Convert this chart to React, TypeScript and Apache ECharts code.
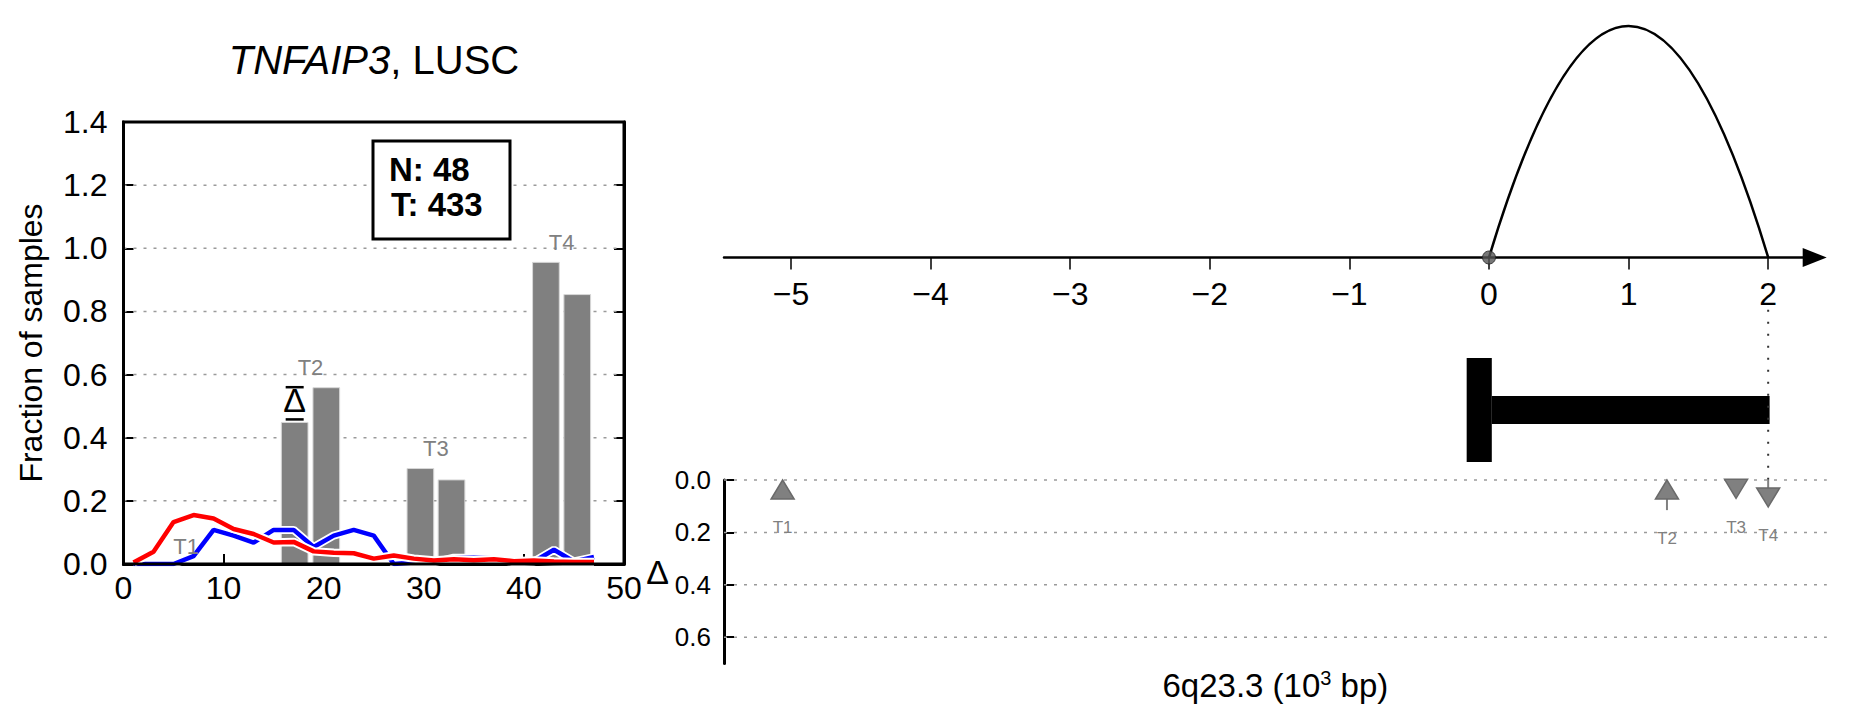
import React, { useEffect, useRef } from 'react';
import * as echarts from 'echarts';

const FONT = '"Liberation Sans", Arial, Helvetica, sans-serif';

// ---------- Left panel: TNFAIP3, LUSC ----------
const lineX = [1, 3, 5, 7, 9, 11, 13, 15, 17, 19, 21, 23, 25, 27, 29, 31, 33, 35, 37, 39, 41, 43, 45, 47];
const redValues = [0.005, 0.039, 0.133, 0.155, 0.144, 0.111, 0.095, 0.068, 0.07, 0.04, 0.036, 0.034, 0.017, 0.027, 0.017, 0.011, 0.015, 0.012, 0.015, 0.009, 0.011, 0.008, 0.006, 0.006];
const blueValues = [0, 0, 0, 0.025, 0.108, 0.09, 0.068, 0.108, 0.108, 0.054, 0.09, 0.108, 0.09, 0.0, 0.005, 0.005, 0.02, 0.02, 0.018, 0.005, 0.008, 0.045, 0.008, 0.022];
const barX = [17.1, 20.26, 29.66, 32.77, 42.2, 45.33];
const barValues = [0.45, 0.56, 0.304, 0.268, 0.957, 0.855];
const peakNames = ['T1', 'T2', 'T3', 'T4'];
const peakLabelX = [6.25, 18.68, 31.2, 43.77];
const peakLabelY = [0.055, 0.622, 0.367, 1.017];
const leftGridTicks = [0.2, 0.4, 0.6, 0.8, 1.0, 1.2];
const deltaBar = [17.1, 0.458, 0.56]; // x, low, high
const countN = 48;
const countT = 433;

// ---------- Right panel ----------
const numberLineTicks = [-5, -4, -3, -2, -1, 0, 1, 2];
const arcSpan = [0, 2, 1]; // start, end, relative height
const originPoint = [0, 0];
const geneBlocks = [
  [-0.16, 0.02, 0, 1],
  [0.02, 2.01, 0.365, 0.635],
];
const geneEndGuide = [2, -0.65, 0]; // x, delta from, delta to
const arrowNames = ['T1', 'T2', 'T3', 'T4'];
const arrowX = [-5.06, 1.275, 1.77, 2.0];
const arrowDelta = [0.07, 0.115, -0.07, -0.103];
const deltaTicks = [0, 0.2, 0.4, 0.6];

const RIGHT_MIN = -5.48;
const UPPER_MAX = 2.333;
const LOWER_MAX = 2.42;

function hGridSeries(xIdx: number, yIdx: number, ticks: number[], z: number) {
  return {
    type: 'custom', xAxisIndex: xIdx, yAxisIndex: yIdx, z,
    data: ticks.map((v) => [0, v]),
    renderItem: (p: any, api: any) => {
      const y = api.coord([0, api.value(1)])[1];
      const cs = p.coordSys;
      return {
        type: 'line', shape: { x1: cs.x, y1: y, x2: cs.x + cs.width, y2: y },
        style: { stroke: '#9a9a9a', lineWidth: 1.5, lineDash: [3, 7] },
      };
    },
  };
}

function tickStyle() {
  return { show: true, inside: true, length: 10, lineStyle: { color: '#000', width: 2 } };
}

function buildOption(): any {
  return {
    animation: false,
    textStyle: { fontFamily: FONT },
    grid: [
      { left: 123.5, top: 122, width: 500.5, height: 442 },
      { left: 724, top: 26, width: 1090.7, height: 231.5 },
      { left: 724, top: 358, width: 1090.7, height: 104 },
      { left: 724, top: 480, width: 1102.8, height: 183.4 },
    ],
    xAxis: [
      {
        gridIndex: 0, type: 'value', min: 0, max: 50, interval: 10, position: 'bottom',
        axisLine: { show: true, onZero: false, lineStyle: { color: '#000', width: 3 } },
        axisTick: tickStyle(),
        axisLabel: { fontSize: 32, color: '#000', margin: 8, fontFamily: FONT },
        splitLine: { show: false },
      },
      {
        gridIndex: 1, type: 'value', min: RIGHT_MIN, max: UPPER_MAX,
        axisLine: { show: true, onZero: false, lineStyle: { color: '#000', width: 2.5 }, symbol: ['none', 'triangle'], symbolSize: [19, 24] },
        axisTick: { show: true, inside: false, length: 12, customValues: numberLineTicks, lineStyle: { color: '#000', width: 1.5 } },
        axisLabel: { show: true, customValues: numberLineTicks, fontSize: 32, color: '#000', margin: 20, fontFamily: FONT,
          formatter: (v: number) => String(v).replace('-', '\u2212') },
        splitLine: { show: false },
      },
      { gridIndex: 2, type: 'value', min: RIGHT_MIN, max: UPPER_MAX, show: false },
      {
        gridIndex: 3, type: 'value', min: RIGHT_MIN, max: LOWER_MAX,
        axisLine: { show: false }, axisTick: { show: false }, axisLabel: { show: false }, splitLine: { show: false },
        name: '{a|6q23.3 (10}{s|3}{a| bp)}', nameLocation: 'middle', nameGap: 2,
        nameTextStyle: {
          rich: {
            a: { fontSize: 33, lineHeight: 40, color: '#000', fontFamily: FONT },
            s: { fontSize: 20, lineHeight: 40, color: '#000', fontFamily: FONT, padding: [0, 0, 14, 0] },
          },
        },
      },
    ],
    yAxis: [
      {
        gridIndex: 0, type: 'value', min: 0, max: 1.4, interval: 0.2, position: 'left',
        axisLine: { show: true, onZero: false, lineStyle: { color: '#000', width: 3 } },
        axisTick: tickStyle(),
        axisLabel: { fontSize: 32, color: '#000', margin: 16, fontFamily: FONT, formatter: (v: number) => v.toFixed(1) },
        splitLine: { show: false },
        name: 'Fraction of samples', nameLocation: 'middle', nameGap: 77,
        nameTextStyle: { fontSize: 32, color: '#000', fontFamily: FONT },
      },
      {
        gridIndex: 0, type: 'value', min: 0, max: 1.4, interval: 0.2, position: 'right',
        axisLine: { show: true, onZero: false, lineStyle: { color: '#000', width: 3 } },
        axisTick: tickStyle(),
        axisLabel: { show: false }, splitLine: { show: false },
      },
      { gridIndex: 1, type: 'value', min: 0, max: 1, show: false },
      { gridIndex: 2, type: 'value', min: 0, max: 1, show: false },
      {
        gridIndex: 3, type: 'value', min: 0, max: 0.7, inverse: true,
        axisLine: { show: true, onZero: false, lineStyle: { color: '#000', width: 3 } },
        axisTick: { show: true, inside: true, length: 10, customValues: deltaTicks, lineStyle: { color: '#000', width: 2 } },
        axisLabel: { show: true, customValues: deltaTicks, fontSize: 26, color: '#000', margin: 13, fontFamily: FONT,
          formatter: (v: number) => v.toFixed(1) },
        splitLine: { show: false },
        name: '\u0394', nameLocation: 'middle', nameRotate: 0, nameGap: 54,
        nameTextStyle: { fontSize: 34, color: '#000', fontFamily: FONT },
      },
    ],
    series: [
      // ---- left panel ----
      hGridSeries(0, 0, leftGridTicks, 1),
      {
        type: 'custom', xAxisIndex: 0, yAxisIndex: 0, z: 6,
        data: [[0, 0]],
        renderItem: (p: any) => {
          const cs = p.coordSys;
          return {
            type: 'rect', shape: { x: cs.x, y: cs.y, width: cs.width, height: cs.height },
            style: { fill: 'none', stroke: '#000', lineWidth: 3 },
          };
        },
      },
      {
        type: 'bar', xAxisIndex: 0, yAxisIndex: 0, barWidth: 27.7,
        data: barX.map((x, i) => [x, barValues[i]]),
        itemStyle: { color: '#808080', borderColor: '#d8d8d8', borderWidth: 1 },
        z: 2,
      },
      {
        type: 'line', xAxisIndex: 0, yAxisIndex: 0, showSymbol: false, symbol: 'none',
        data: lineX.map((x, i) => [x, blueValues[i]]),
        lineStyle: { color: '#ffffff', width: 8 }, z: 3,
      },
      {
        type: 'line', xAxisIndex: 0, yAxisIndex: 0, showSymbol: false, symbol: 'none',
        data: lineX.map((x, i) => [x, blueValues[i]]),
        lineStyle: { color: '#0000ff', width: 4.5 }, z: 3,
      },
      {
        type: 'line', xAxisIndex: 0, yAxisIndex: 0, showSymbol: false, symbol: 'none',
        data: lineX.map((x, i) => [x, redValues[i]]),
        lineStyle: { color: '#ffffff', width: 8.5 }, z: 3,
      },
      {
        type: 'line', xAxisIndex: 0, yAxisIndex: 0, showSymbol: false, symbol: 'none',
        data: lineX.map((x, i) => [x, redValues[i]]),
        lineStyle: { color: '#ff0000', width: 4.5 }, z: 3,
      },
      {
        type: 'custom', xAxisIndex: 0, yAxisIndex: 0, z: 4,
        data: peakLabelX.map((x, i) => [x, peakLabelY[i], i]),
        renderItem: (_p: any, api: any) => {
          const pt = api.coord([api.value(0), api.value(1)]);
          return {
            type: 'text', x: pt[0], y: pt[1],
            style: { text: peakNames[api.value(2)], fill: '#808080', fontSize: 22, fontFamily: FONT, align: 'center', verticalAlign: 'middle' },
          };
        },
      },
      {
        type: 'custom', xAxisIndex: 0, yAxisIndex: 0, z: 5,
        data: [deltaBar],
        renderItem: (_p: any, api: any) => {
          const x = api.value(0);
          const lo = api.coord([x, api.value(1)]);
          const hi = api.coord([x, api.value(2)]);
          const cap = { stroke: '#000', lineWidth: 2.5 };
          return {
            type: 'group',
            children: [
              { type: 'line', shape: { x1: hi[0] - 9, y1: hi[1], x2: hi[0] + 9, y2: hi[1] }, style: cap },
              { type: 'line', shape: { x1: lo[0] - 9, y1: lo[1], x2: lo[0] + 9, y2: lo[1] }, style: cap },
              { type: 'text', x: hi[0], y: (hi[1] + lo[1]) / 2 - 3,
                style: { text: '\u0394', fill: '#000', fontSize: 34, fontFamily: FONT, align: 'center', verticalAlign: 'middle' } },
            ],
          };
        },
      },
      // ---- upper right: number line arc ----
      {
        type: 'custom', xAxisIndex: 1, yAxisIndex: 2, z: 3,
        data: [arcSpan],
        renderItem: (_p: any, api: any) => {
          const s = api.value(0), e = api.value(1), h = api.value(2);
          const p0 = api.coord([s, 0]);
          const p2 = api.coord([e, 0]);
          const cp = api.coord([(s + e) / 2, 2 * h]);
          return {
            type: 'bezierCurve',
            shape: { x1: p0[0], y1: p0[1], x2: p2[0], y2: p2[1], cpx1: cp[0], cpy1: cp[1] },
            style: { stroke: '#000', lineWidth: 2.5, fill: 'none' },
          };
        },
      },
      {
        type: 'scatter', xAxisIndex: 1, yAxisIndex: 2, z: 4,
        data: [originPoint], symbolSize: 13,
        itemStyle: { color: '#555555', borderColor: '#222', borderWidth: 1 },
      },
      // ---- gene track ----
      {
        type: 'custom', xAxisIndex: 2, yAxisIndex: 3, z: 3,
        data: geneBlocks,
        renderItem: (_p: any, api: any) => {
          const a = api.coord([api.value(0), api.value(3)]);
          const b = api.coord([api.value(1), api.value(2)]);
          return { type: 'rect', shape: { x: a[0], y: a[1], width: b[0] - a[0], height: b[1] - a[1] }, style: { fill: '#000' } };
        },
      },
      // ---- lower right: delta axis ----
      hGridSeries(3, 4, deltaTicks, 1),
      {
        type: 'custom', xAxisIndex: 3, yAxisIndex: 4, z: 3,
        data: [geneEndGuide],
        renderItem: (_p: any, api: any) => {
          const a = api.coord([api.value(0), api.value(1)]);
          const b = api.coord([api.value(0), api.value(2)]);
          return {
            type: 'line', shape: { x1: a[0], y1: a[1], x2: b[0], y2: b[1] },
            style: { stroke: '#333', lineWidth: 2, lineDash: [2, 10] },
          };
        },
      },
      {
        type: 'custom', xAxisIndex: 3, yAxisIndex: 4, z: 4,
        data: arrowX.map((x, i) => [x, arrowDelta[i], i]),
        renderItem: (_p: any, api: any) => {
          const x = api.value(0);
          const d = api.value(1);
          const idx = api.value(2);
          const p0 = api.coord([x, 0]);
          const p1 = api.coord([x, Math.abs(d)]);
          const lab = api.coord([x, Math.abs(d) + 0.11]);
          const hl = 19, hw = 11.5;
          const children: any[] = [];
          if (d > 0) {
            const base = p0[1] + hl;
            if (p1[1] > base) children.push({ type: 'line', shape: { x1: p0[0], y1: base, x2: p0[0], y2: p1[1] }, style: { stroke: '#808080', lineWidth: 2 } });
            children.push({ type: 'polygon', shape: { points: [[p0[0], p0[1]], [p0[0] - hw, base], [p0[0] + hw, base]] }, style: { fill: '#808080', stroke: '#6a6a6a', lineWidth: 1.5 } });
          } else {
            const base = p1[1] - hl;
            if (base > p0[1]) children.push({ type: 'line', shape: { x1: p0[0], y1: p0[1], x2: p0[0], y2: base }, style: { stroke: '#808080', lineWidth: 2 } });
            children.push({ type: 'polygon', shape: { points: [[p1[0], p1[1]], [p1[0] - hw, base], [p1[0] + hw, base]] }, style: { fill: '#808080', stroke: '#6a6a6a', lineWidth: 1.5 } });
          }
          children.push({ type: 'text', x: lab[0], y: lab[1], style: { text: arrowNames[idx], fill: '#808080', fontSize: 17, fontFamily: FONT, align: 'center', verticalAlign: 'middle' } });
          return { type: 'group', children };
        },
      },
    ],
    graphic: [
      {
        type: 'text', x: 374, y: 60, z: 10,
        style: {
          text: '{i|TNFAIP3}, LUSC',
          rich: { i: { fontStyle: 'italic', fontSize: 40, fontFamily: FONT, fill: '#000' } },
          fontSize: 40, fontFamily: FONT, fill: '#000', align: 'center', verticalAlign: 'middle',
        },
      },
      {
        type: 'rect', z: 10, shape: { x: 373, y: 141, width: 137, height: 98 },
        style: { fill: '#fff', stroke: '#000', lineWidth: 3 },
      },
      {
        type: 'text', x: 389, y: 169, z: 11,
        style: { text: `N: ${countN}`, fontSize: 33, fontWeight: 'bold', fontFamily: FONT, fill: '#000', align: 'left', verticalAlign: 'middle' },
      },
      {
        type: 'text', x: 391, y: 204, z: 11,
        style: { text: `T: ${countT}`, fontSize: 33, fontWeight: 'bold', fontFamily: FONT, fill: '#000', align: 'left', verticalAlign: 'middle' },
      },
    ],
  };
}

export default function App() {
  const ref = useRef<HTMLDivElement>(null);
  useEffect(() => {
    if (!ref.current) return;
    const chart = echarts.init(ref.current, undefined, { renderer: 'svg' });
    chart.setOption(buildOption());
    return () => chart.dispose();
  }, []);
  return <div ref={ref} style={{ position: 'absolute', left: 0, top: 0, width: 1851, height: 718 }} />;
}
